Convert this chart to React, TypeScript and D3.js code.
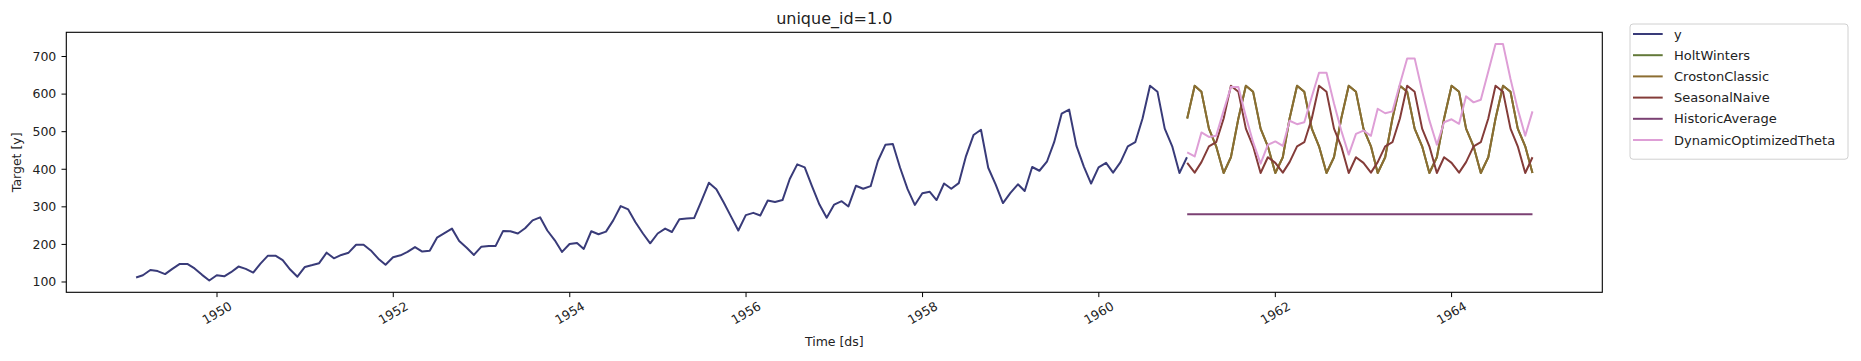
import React from "react";
import * as d3 from "d3";

const yValues = [
  112, 118, 132, 129, 121, 135, 148, 148, 136, 119, 104, 118,
  115, 126, 141, 135, 125, 149, 170, 170, 158, 133, 114, 140,
  145, 150, 178, 163, 172, 178, 199, 199, 184, 162, 146, 166,
  171, 180, 193, 181, 183, 218, 230, 242, 209, 191, 172, 194,
  196, 196, 236, 235, 229, 243, 264, 272, 237, 211, 180, 201,
  204, 188, 235, 227, 234, 264, 302, 293, 259, 229, 203, 229,
  242, 233, 267, 269, 270, 315, 364, 347, 312, 274, 237, 278,
  284, 277, 317, 313, 318, 374, 413, 405, 355, 306, 271, 306,
  315, 301, 356, 348, 355, 422, 465, 467, 404, 347, 305, 336,
  340, 318, 362, 348, 363, 435, 491, 505, 404, 359, 310, 337,
  360, 342, 406, 396, 420, 472, 548, 559, 463, 407, 362, 405,
  417, 391, 419, 461, 472, 535, 622, 606, 508, 461, 390, 432,
];

const holtWinters = [
  535, 622, 606, 508, 461, 390, 432, 535, 622, 606, 508, 461,
  390, 432, 535, 622, 606, 508, 461, 390, 432, 535, 622, 606,
  508, 461, 390, 432, 535, 622, 606, 508, 461, 390, 432, 535,
  622, 606, 508, 461, 390, 432, 535, 622, 606, 508, 461, 390,
];
const crostonClassic = [...holtWinters];

const seasonalNaive = [
  417, 391, 419, 461, 472, 535, 622, 606, 508, 461, 390, 432,
  417, 391, 419, 461, 472, 535, 622, 606, 508, 461, 390, 432,
  417, 391, 419, 461, 472, 535, 622, 606, 508, 461, 390, 432,
  417, 391, 419, 461, 472, 535, 622, 606, 508, 461, 390, 432,
];

const historicAverage = Array(48).fill(280.3);

const dynamicOptimizedTheta = [
  445, 434, 498, 486, 489, 556, 619, 619, 540, 472, 415, 465,
  474, 462, 529, 520, 525, 593, 657, 657, 575, 503, 439, 494,
  503, 489, 561, 549, 554, 627, 695, 695, 608, 530, 465, 525,
  533, 521, 594, 578, 585, 660, 733, 733, 640, 560, 489, 554,
];

const seriesNames = ["y", "HoltWinters", "CrostonClassic", "SeasonalNaive", "HistoricAverage", "DynamicOptimizedTheta"];
const seriesColors = ["#393b79", "#637939", "#8c6d31", "#843c39", "#7b4173", "#de9ed6"];

// y dates: month ends 1949-01-31 .. 1960-12-31 ; forecast dates: month starts 1961-01-01 .. 1964-12-01
const yDates = yValues.map((_, i) => new Date(1949, i + 1, 0));
const fcDates = holtWinters.map((_, i) => new Date(1961, i, 1));

const W = 1861, H = 361;
const left = 66.3, right = 1602.3, top = 32.3, bottom = 292.3;
const FONT = "DejaVu Sans, sans-serif";

export default function App() {
  const xMin = yDates[0].getTime();
  const xMax = fcDates[fcDates.length - 1].getTime();
  const xm = (xMax - xMin) * 0.05;
  const x = d3.scaleTime().domain([new Date(xMin - xm), new Date(xMax + xm)]).range([left, right]);

  const all = [...yValues, ...holtWinters, ...seasonalNaive, ...historicAverage, ...dynamicOptimizedTheta];
  const lo = d3.min(all)!, hi = d3.max(all)!;
  const ym = (hi - lo) * 0.05;
  const y = d3.scaleLinear().domain([lo - ym, hi + ym]).range([bottom, top]);

  const line = d3.line<[Date, number]>().x(d => x(d[0])).y(d => y(d[1]));
  const series: [Date, number][][] = [
    yValues.map((v, i) => [yDates[i], v]),
    holtWinters.map((v, i) => [fcDates[i], v]),
    crostonClassic.map((v, i) => [fcDates[i], v]),
    seasonalNaive.map((v, i) => [fcDates[i], v]),
    historicAverage.map((v, i) => [fcDates[i], v]),
    dynamicOptimizedTheta.map((v, i) => [fcDates[i], v]),
  ];

  const xTicks = x.ticks(d3.timeYear.every(2)!);
  const yTicks = [100, 200, 300, 400, 500, 600, 700];

  const legX = 1630, legY = 24, legW = 218, rowH = 21.2;
  const legH = rowH * seriesNames.length + 8;

  return (
    <svg width={W} height={H} style={{ position: "absolute", left: 0, top: 0, background: "#fff" }} fontFamily={FONT}>
      <rect x={0} y={0} width={W} height={H} fill="#fff" />
      <defs>
        <clipPath id="plotclip">
          <rect x={left} y={top} width={right - left} height={bottom - top} />
        </clipPath>
      </defs>
      <g clipPath="url(#plotclip)">
        {series.map((s, i) => (
          <path key={i} d={line(s)!} fill="none" stroke={seriesColors[i]} strokeWidth={2} strokeLinejoin="round" />
        ))}
      </g>
      <rect x={left} y={top} width={right - left} height={bottom - top} fill="none" stroke="#000" strokeWidth={1.1} />
      {yTicks.map(t => (
        <g key={t}>
          <line x1={left - 4.8} x2={left} y1={y(t)} y2={y(t)} stroke="#000" strokeWidth={1} />
          <text x={left - 10} y={y(t)} dy="0.35em" textAnchor="end" fontSize={12.5} fill="#222">{t}</text>
        </g>
      ))}
      {xTicks.map(t => (
        <g key={t.getTime()}>
          <line x1={x(t)} x2={x(t)} y1={bottom} y2={bottom + 4.8} stroke="#000" strokeWidth={1} />
          <text transform={`translate(${x(t)},${313}) rotate(-30)`} textAnchor="middle" dy="0.35em" fontSize={12.5} fill="#222">
            {d3.timeFormat("%Y")(t)}
          </text>
        </g>
      ))}
      <text x={(left + right) / 2} y={346} textAnchor="middle" fontSize={12.5} fill="#222">Time [ds]</text>
      <text transform={`translate(20.5,${(top + bottom) / 2}) rotate(-90)`} textAnchor="middle" fontSize={12.5} fill="#222">Target [y]</text>
      <text x={(left + right) / 2} y={24} textAnchor="middle" fontSize={16} fill="#222">unique_id=1.0</text>
      <g>
        <rect x={legX} y={legY} width={legW} height={legH} rx={3} fill="#fff" fillOpacity={0.8} stroke="#d0d0d0" strokeWidth={1} />
        {seriesNames.map((n, i) => (
          <g key={n}>
            <line x1={1633} x2={1662.7} y1={34 + i * rowH} y2={34 + i * rowH} stroke={seriesColors[i]} strokeWidth={2} />
            <text x={1674} y={34 + i * rowH} dy="0.35em" fontSize={13} fill="#222">{n}</text>
          </g>
        ))}
      </g>
    </svg>
  );
}
